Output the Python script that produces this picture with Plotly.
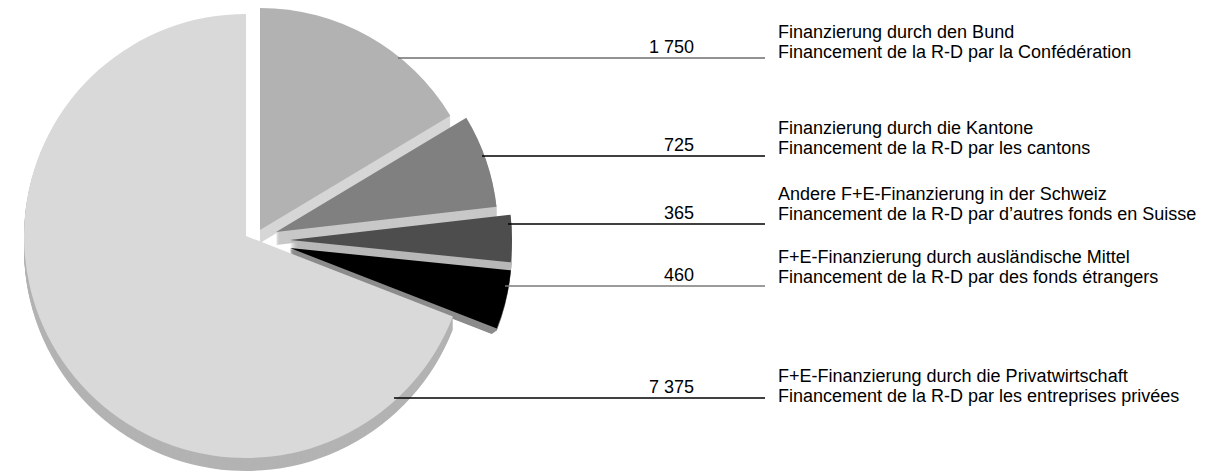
import plotly.graph_objects as go

# ---- data ----
labels_de = [
    "Finanzierung durch den Bund",
    "Finanzierung durch die Kantone",
    "Andere F+E-Finanzierung in der Schweiz",
    "F+E-Finanzierung durch ausländische Mittel",
    "F+E-Finanzierung durch die Privatwirtschaft",
]
labels_fr = [
    "Financement de la R-D par la Confédération",
    "Financement de la R-D par les cantons",
    "Financement de la R-D par d\u2019autres fonds en Suisse",
    "Financement de la R-D par des fonds étrangers",
    "Financement de la R-D par les entreprises privées",
]
values = [1750, 725, 365, 460, 7375]

# ---- styling (screen px; page body has an 8px margin) ----
OFF = 8
W, H = 1202, 464
top_colors = ["#b2b2b2", "#808080", "#4d4d4d", "#000000", "#d9d9d9"]
side_colors = ["#d6d6d6", "#c8c8c8", "#b8b8b8", "#8c8c8c", "#b3b3b3"]
offsets = [(14, -6), (30, -4), (44, 4), (44, 12), (0, 0)]  # explosion (px)
R, CX, CY = 222, 246, 236
DEPTH = 13
rule_y = [58, 156, 224, 286, 398]
rule_x0 = [398, 482, 508, 505, 394]
rule_colors = ["#6e6e6e", "#000000", "#000000", "#7a7a7a", "#000000"]
text2_y = [52, 148, 214, 277, 396]
RULE_X1 = 765
NUM_RIGHT = 693
TEXT_X = 779
FONT = "Liberation Sans, Arial, sans-serif"
FS = 18
TRANSP = "rgba(0,0,0,0)"


def px(x):
    return (x - OFF) / W


def py(y):
    return (H - (y - OFF)) / H


def dom(cx, cy):
    return dict(
        x=[max(0, px(cx - R)), min(1, px(cx + R))],
        y=[max(0, py(cy + R)), min(1, py(cy - R))],
    )


fig = go.Figure()
labels = [f"s{i}" for i in range(len(values))]
for i in range(len(values)):
    dx, dy = offsets[i]
    for k in range(DEPTH, 0, -1):
        cols = [TRANSP] * len(values)
        cols[i] = side_colors[i]
        fig.add_trace(go.Pie(
            values=values, labels=labels, sort=False, direction="clockwise",
            rotation=0, textinfo="none", hoverinfo="skip", showlegend=False,
            marker=dict(colors=cols, line=dict(width=0)),
            domain=dom(CX + dx, CY + dy + k),
        ))
    cols = [TRANSP] * len(values)
    cols[i] = top_colors[i]
    fig.add_trace(go.Pie(
        values=values, labels=labels, sort=False, direction="clockwise",
        rotation=0, textinfo="none", hoverinfo="skip", showlegend=False,
        marker=dict(colors=cols, line=dict(width=0)),
        domain=dom(CX + dx, CY + dy),
    ))

shapes = []
annotations = []
for i in range(len(values)):
    y = rule_y[i]
    shapes.append(dict(type="line", xref="paper", yref="paper",
                       x0=px(rule_x0[i]), x1=px(RULE_X1), y0=py(y), y1=py(y),
                       line=dict(color=rule_colors[i], width=1.3)))
    num = f"{values[i]:,}".replace(",", " ")
    annotations.append(dict(xref="paper", yref="paper", x=px(NUM_RIGHT + 3),
                            y=py(y - 11), xanchor="right", yanchor="middle",
                            text=num, showarrow=False,
                            font=dict(family=FONT, size=FS, color="#000")))
    annotations.append(dict(xref="paper", yref="paper", x=px(TEXT_X - 3),
                            y=py(text2_y[i] - 20), xanchor="left", yanchor="middle",
                            text=labels_de[i], showarrow=False,
                            font=dict(family=FONT, size=FS, color="#000")))
    annotations.append(dict(xref="paper", yref="paper", x=px(TEXT_X - 3),
                            y=py(text2_y[i]), xanchor="left", yanchor="middle",
                            text=labels_fr[i], showarrow=False,
                            font=dict(family=FONT, size=FS, color="#000")))

fig.update_layout(
    width=W, height=H,
    margin=dict(l=0, r=0, t=0, b=0),
    paper_bgcolor="white", plot_bgcolor="white",
    shapes=shapes, annotations=annotations,
    showlegend=False,
)
fig.write_html("out.html", config={"displayModeBar": False})
